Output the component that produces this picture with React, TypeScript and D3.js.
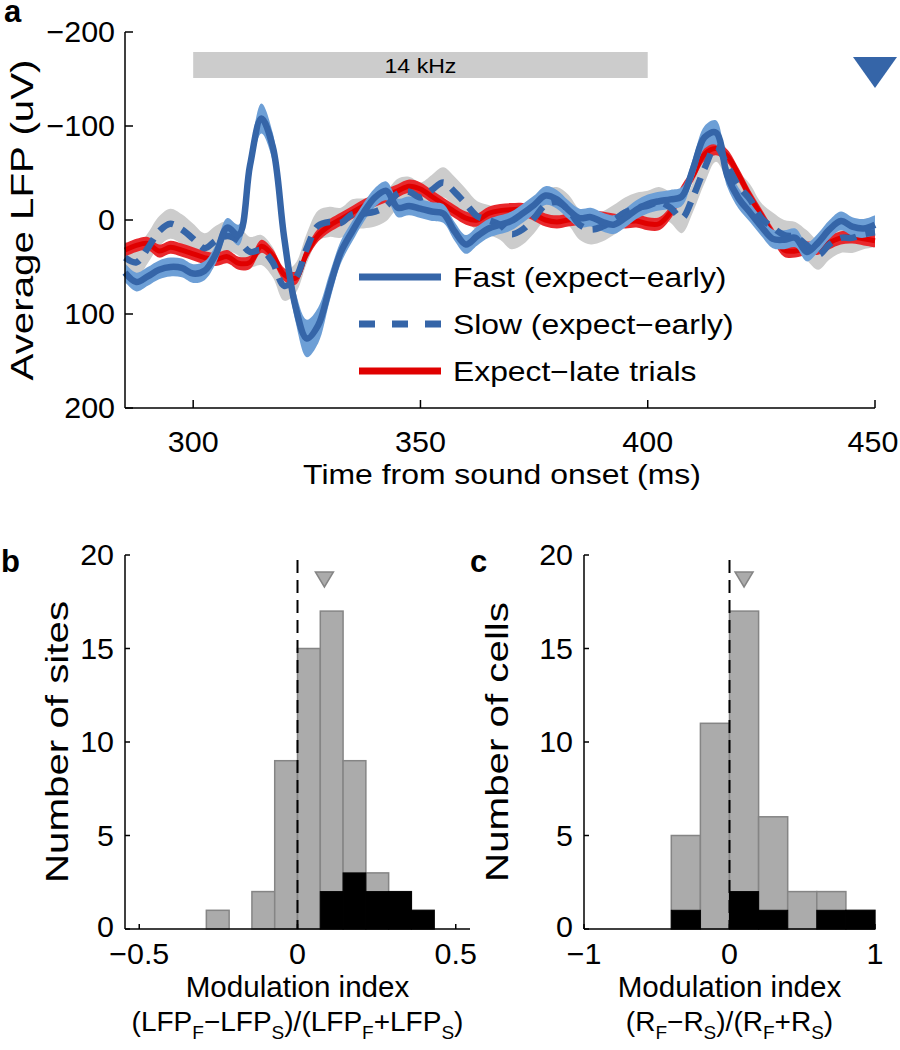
import React from 'react';
import * as d3 from 'd3';

// ---------- Panel a data ----------
const TIME = [285, 287.5, 290, 292.5, 295, 297.5, 300, 302.5, 305, 307.5, 310, 312.5, 315, 317.5, 320, 322.5, 325, 327.5, 330, 332.5, 335, 337.5, 340, 342.5, 345, 347.5, 350, 352.5, 355, 357.5, 360, 362.5, 365, 367.5, 370, 372.5, 375, 377.5, 380, 382.5, 385, 387.5, 390, 392.5, 395, 397.5, 400, 402.5, 405, 407.5, 410, 412.5, 415, 417.5, 420, 422.5, 425, 427.5, 430, 432.5, 435, 437.5, 440, 442.5, 445, 447.5, 450];

const FAST = [56, 66, 60, 53, 50, 51, 57, 54, 36, 8, 16, -58, -108, -78, 18, 92, 126, 112, 72, 34, 12, -8, -24, -31, -13, -15, -12, -9, -7, 12, 26, 17, 9, 5, 1, -7, -16, -26, -22, -11, -2, -3, 2, 5, -2, -11, -17, -20, -22, -25, -55, -88, -93, -47, -23, -8, 7, 20, 21, 19, 34, 24, 10, 1, 7, 9, 5];
const FAST_SE = [10, 10, 10, 10, 10, 10, 10, 10, 10, 10, 11, 13, 16, 15, 14, 16, 20, 19, 15, 12, 11, 10, 10, 10, 10, 10, 10, 10, 10, 10, 10, 10, 10, 10, 10, 10, 10, 10, 10, 10, 10, 10, 10, 10, 10, 10, 10, 10, 10, 10, 11, 12, 13, 12, 11, 10, 10, 10, 10, 10, 10, 10, 10, 10, 10, 10, 10];

const SLOW = [40, 45, 30, 12, 4, 10, 20, 30, 22, 17, 22, 34, 32, 45, 70, 62, 30, 6, 2, 3, -6, -7, -9, -15, -28, -30, -24, -32, -40, -30, -17, -4, 0, 5, 15, 10, -2, -16, -19, -11, 5, 10, 7, 0, -8, -13, -15, -19, -13, -2, -25, -55, -78, -58, -36, -22, -2, 8, 16, 18, 27, 37, 26, 19, 19, 15, 13];
const SLOW_SE = [17, 17, 16, 16, 16, 16, 16, 16, 16, 16, 16, 16, 16, 16, 16, 16, 16, 16, 16, 16, 16, 16, 16, 16, 16, 16, 16, 16, 16, 16, 16, 16, 16, 16, 16, 16, 16, 16, 16, 16, 16, 16, 16, 16, 16, 16, 16, 16, 16, 16, 16, 16, 16, 16, 16, 16, 16, 16, 16, 16, 16, 16, 16, 16, 16, 16, 16];

const LATE = [32, 27, 25, 33, 29, 32, 36, 40, 42, 39, 46, 45, 28, 38, 58, 62, 35, 16, 6, -1, -8, -15, -21, -26, -31, -36, -33, -25, -17, -9, -2, 0, -7, -10, -11, -11, -6, 0, 2, 0, -2, -3, -2, 0, 2, 1, 4, 4, -8, -30, -48, -70, -76, -68, -48, -25, -5, 15, 32, 33, 30, 30, 24, 19, 18, 20, 22];
const LATE_SE = [7, 7, 7, 7, 7, 7, 7, 7, 7, 7, 7, 7, 7, 7, 7, 7, 7, 7, 7, 7, 7, 7, 7, 7, 7, 7, 7, 7, 7, 7, 7, 7, 7, 7, 7, 7, 7, 7, 7, 7, 7, 7, 7, 7, 7, 7, 7, 7, 7, 7, 7, 7, 7, 7, 7, 7, 7, 7, 7, 7, 7, 7, 7, 7, 7, 7, 7];

const A_XTICKS = [300, 350, 400, 450];
const A_YTICKS = [-200, -100, 0, 100, 200];
const TONE = [300, 400];
const LEGEND = ['Fast (expect\u2212early)', 'Slow (expect\u2212early)', 'Expect\u2212late trials'];

// ---------- Panel b data ----------
const B_BIN_LEFT = [-0.288, -0.216, -0.144, -0.072, 0, 0.072, 0.144, 0.216, 0.288, 0.36];
const B_BIN_WIDTH = 0.072;
const B_ALL = [1, 0, 2, 9, 15, 17, 9, 3, 2, 1];
const B_SIG = [0, 0, 0, 0, 0, 2, 3, 2, 2, 1];
const B_MEDIAN = 0.085;
const B_XTICKS = [-0.5, 0, 0.5];
const B_XTICK_LABELS = ['\u22120.5', '0', '0.5'];

// ---------- Panel c data ----------
const C_BIN_LEFT = [-0.4, -0.2, 0, 0.2, 0.4, 0.6, 0.8];
const C_BIN_WIDTH = 0.2;
const C_ALL = [5, 11, 17, 6, 2, 2, 1];
const C_SIG = [1, 0, 2, 1, 0, 1, 1];
const C_MEDIAN = 0.1;
const C_XTICKS = [-1, 0, 1];
const C_XTICK_LABELS = ['\u22121', '0', '1'];

const HIST_YTICKS = [0, 5, 10, 15, 20];

const FONT = '"Liberation Sans", Arial, Helvetica, sans-serif';
const DARK_BLUE = '#3565a8';
const LIGHT_BLUE = '#6d9fd6';
const GREY_BAND = '#cccccc';
const RED = '#e00000';
const BAR_GREY = '#ababab';
const BAR_EDGE = '#858585';

const minus = (v: number) => (v < 0 ? '\u2212' + Math.abs(v) : String(v));

function T(props: { x: number; y: number; size: number; anchor?: string; dy?: string; sx?: number; bold?: boolean; rot?: boolean; children: React.ReactNode }) {
  const sx = props.sx ?? 1.05;
  const rot = props.rot ? ' rotate(-90)' : '';
  return (
    <text transform={`translate(${props.x},${props.y})${rot} scale(${sx},1)`} dy={props.dy} textAnchor={props.anchor || 'start'}
      fontSize={props.size} fontWeight={props.bold ? 'bold' : 'normal'} fontFamily={FONT}>{props.children}</text>
  );
}

function PanelA() {
  const x = d3.scaleLinear().domain([285, 450]).range([125, 875]);
  const y = d3.scaleLinear().domain([-200, 200]).range([32, 408]);
  const idx = TIME.map((_, i) => i);
  const curve = d3.curveCatmullRom.alpha(0.5);
  const area = (v: number[], se: number[]) =>
    d3.area<number>().x(i => x(TIME[i])).y0(i => y(v[i] - se[i])).y1(i => y(v[i] + se[i])).curve(curve)(idx) || '';
  const line = (v: number[]) => d3.line<number>().x(i => x(TIME[i])).y(i => y(v[i])).curve(curve)(idx) || '';

  const legY = [277, 324, 371];
  return (
    <g>
      <T x={4} y={22} size={31} bold sx={1}>a</T>
      {/* tone bar */}
      <rect x={x(TONE[0])} y={52} width={x(TONE[1]) - x(TONE[0])} height={26} fill="#cccccc" />
      <T x={(x(TONE[0]) + x(TONE[1])) / 2} y={73} size={21} anchor="middle" sx={1.1}>14 kHz</T>
      {/* triangle */}
      <path d={`M${x(450) - 22},57 L${x(450) + 22},57 L${x(450)},88 Z`} fill={DARK_BLUE} />
      {/* bands */}
      <path d={area(SLOW, SLOW_SE)} fill={GREY_BAND} />
      <path d={area(LATE, LATE_SE)} fill="#e8282c" />
      <path d={line(LATE)} fill="none" stroke={RED} strokeWidth={5} />
      <path d={area(FAST, FAST_SE)} fill={LIGHT_BLUE} />
      <path d={line(SLOW)} fill="none" stroke={DARK_BLUE} strokeWidth={6.5} strokeDasharray="16 10" />
      <path d={line(FAST)} fill="none" stroke={DARK_BLUE} strokeWidth={6.5} />
      {/* axes */}
      <line x1={125} x2={125} y1={32} y2={408} stroke="#000" strokeWidth={1.5} />
      <line x1={125} x2={875} y1={408} y2={408} stroke="#000" strokeWidth={1.5} />
      {A_YTICKS.map(t => (
        <g key={t}>
          <line x1={125} x2={133} y1={y(t)} y2={y(t)} stroke="#000" strokeWidth={1.5} />
          <T x={115} y={y(t)} dy="0.36em" anchor="end" size={29}>{minus(t)}</T>
        </g>
      ))}
      {A_XTICKS.map(t => (
        <g key={t}>
          <line x1={x(t)} x2={x(t)} y1={408} y2={400} stroke="#000" strokeWidth={1.5} />
          <T x={t === 450 ? x(t) - 2 : x(t)} y={452} anchor="middle" size={29}>{t}</T>
        </g>
      ))}
      <T x={502} y={484} anchor="middle" size={28} sx={1.14}>Time from sound onset (ms)</T>
      <T x={33} y={y(0)} rot anchor="middle" size={31} sx={1.3}>Average LFP (uV)</T>
      {/* legend */}
      <line x1={359} x2={441} y1={legY[0]} y2={legY[0]} stroke={DARK_BLUE} strokeWidth={7} />
      <line x1={359} x2={441} y1={legY[1]} y2={legY[1]} stroke={DARK_BLUE} strokeWidth={7} strokeDasharray="16 17" />
      <line x1={359} x2={441} y1={legY[2]} y2={legY[2]} stroke={RED} strokeWidth={7} />
      {LEGEND.map((s, i) => (
        <T key={s} x={453} y={legY[i]} dy="0.36em" size={27} sx={1.18}>{s}</T>
      ))}
    </g>
  );
}

function Hist(props: {
  x0: number; x1: number; domain: [number, number];
  left: number[]; width: number; all: number[]; sig: number[]; median: number;
  xticks: number[]; xlabels: string[]; label: string; ylabel: string; ylabelX: number;
  letterX: number; formula: React.ReactNode;
}) {
  const { x0, x1 } = props;
  const x = d3.scaleLinear().domain(props.domain).range([x0, x1]);
  const y = d3.scaleLinear().domain([0, 20]).range([929, 555]);
  const cx = x(0);
  return (
    <g>
      <T x={props.letterX} y={572} size={31} bold sx={1}>{props.label}</T>
      {props.left.map((l, i) => props.all[i] > 0 && (
        <rect key={'a' + i} x={x(l)} y={y(props.all[i])} width={x(l + props.width) - x(l)} height={y(0) - y(props.all[i])}
          fill={BAR_GREY} stroke={BAR_EDGE} strokeWidth={1.5} />
      ))}
      {props.left.map((l, i) => props.sig[i] > 0 && (
        <rect key={'s' + i} x={x(l)} y={y(props.sig[i])} width={x(l + props.width) - x(l)} height={y(0) - y(props.sig[i])}
          fill="#000" stroke="#000" strokeWidth={1} />
      ))}
      <line x1={x(0)} x2={x(0)} y1={560} y2={929} stroke="#000" strokeWidth={2} strokeDasharray="13 7" />
      <path d={`M${x(props.median) - 9},572 L${x(props.median) + 9},572 L${x(props.median)},587 Z`} fill={BAR_GREY} stroke={BAR_EDGE} strokeWidth={1.5} />
      <line x1={x0} x2={x0} y1={555} y2={929} stroke="#000" strokeWidth={1.5} />
      <line x1={x0} x2={x1} y1={929} y2={929} stroke="#000" strokeWidth={1.5} />
      {HIST_YTICKS.map(t => (
        <g key={t}>
          <line x1={x0} x2={x0 + 5} y1={y(t)} y2={y(t)} stroke="#000" strokeWidth={1.5} />
          <T x={x0 - 11} y={t === 0 ? y(t) - 2 : y(t)} dy="0.36em" anchor="end" size={29}>{t}</T>
        </g>
      ))}
      {props.xticks.map((t, i) => (
        <g key={t}>
          <line x1={x(t)} x2={x(t)} y1={929} y2={924} stroke="#000" strokeWidth={1.5} />
          <T x={x(t)} y={964} anchor="middle" size={29}>{props.xlabels[i]}</T>
        </g>
      ))}
      <T x={props.ylabelX} y={y(10)} rot anchor="middle" size={31} sx={1.3}>{props.ylabel}</T>
      <T x={cx} y={997} anchor="middle" size={29} sx={1.02}>Modulation index</T>
      <T x={cx} y={1031} anchor="middle" size={28} sx={1.0}>{props.formula}</T>
    </g>
  );
}

export default function App() {
  return (
    <svg width={900} height={1050} style={{ position: 'absolute', left: 0, top: 0, background: '#fff' }}>
      <rect width={900} height={1050} fill="#fff" />
      <PanelA />
      <Hist x0={125} x1={470} domain={[-0.545, 0.545]} left={B_BIN_LEFT} width={B_BIN_WIDTH} all={B_ALL} sig={B_SIG}
        median={B_MEDIAN} xticks={B_XTICKS} xlabels={B_XTICK_LABELS} label="b" ylabel="Number of sites" ylabelX={68}
        letterX={1}
        formula={<>
          (LFP<tspan fontSize={19} dy={8}>F</tspan><tspan dy={-8}>{'\u2212'}LFP</tspan><tspan fontSize={19} dy={8}>S</tspan>
          <tspan dy={-8}>)/(LFP</tspan><tspan fontSize={19} dy={8}>F</tspan><tspan dy={-8}>+LFP</tspan><tspan fontSize={19} dy={8}>S</tspan><tspan dy={-8}>)</tspan>
        </>} />
      <Hist x0={584} x1={875} domain={[-1, 1]} left={C_BIN_LEFT} width={C_BIN_WIDTH} all={C_ALL} sig={C_SIG}
        median={C_MEDIAN} xticks={C_XTICKS} xlabels={C_XTICK_LABELS} label="c" ylabel="Number of cells" ylabelX={508}
        letterX={470}
        formula={<>
          (R<tspan fontSize={19} dy={8}>F</tspan><tspan dy={-8}>{'\u2212'}R</tspan><tspan fontSize={19} dy={8}>S</tspan>
          <tspan dy={-8}>)/(R</tspan><tspan fontSize={19} dy={8}>F</tspan><tspan dy={-8}>+R</tspan><tspan fontSize={19} dy={8}>S</tspan><tspan dy={-8}>)</tspan>
        </>} />
    </svg>
  );
}
